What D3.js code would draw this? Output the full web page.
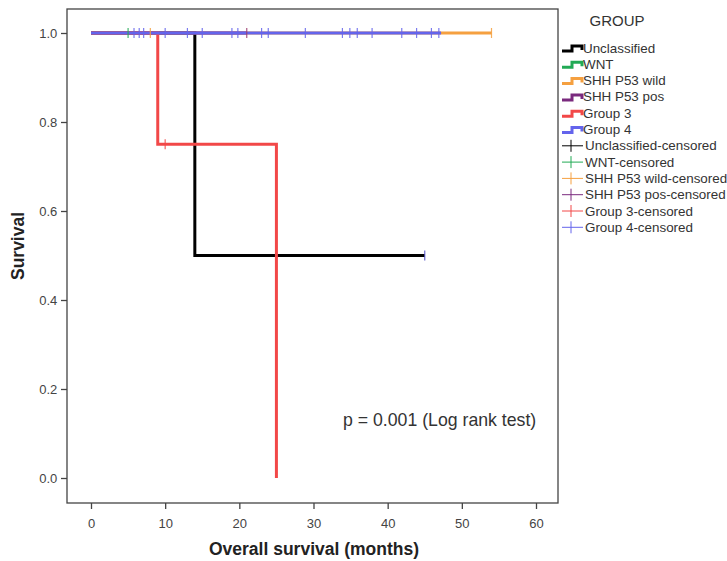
<!DOCTYPE html>
<html><head><meta charset="utf-8">
<script src="https://cdn.jsdelivr.net/npm/d3@7"></script>
<style>body{margin:0;background:#fff}svg{display:block;font-family:"Liberation Sans",Arial,sans-serif}</style>
</head><body><svg id="c" width="727" height="561"></svg>
<script>
const groups = ["Unclassified","WNT","SHH P53 wild","SHH P53 pos","Group 3","Group 4"];
const colors = ["#000000","#22aa55","#f5a040","#7a2a7e","#f24848","#6464ec"];
// step curves: [time, survival]
const unclassifiedSteps = [[0,1],[14,0.5],[45,0.5]];
const wntSteps = [[0,1],[5,1]];
const shhWildSteps = [[0,1],[54,1]];
const shhPosSteps = [[0,1],[21,1]];
const group3Steps = [[0,1],[9,0.75],[25,0]];
const group4Steps = [[0,1],[47.2,1]];
const allSteps = [unclassifiedSteps,wntSteps,shhWildSteps,shhPosSteps,group3Steps,group4Steps];
// censored observations: [time, survival]
const unclassifiedCens = [[45,0.5]];
const wntCens = [[5,1]];
const shhWildCens = [[8,1],[54,1]];
const shhPosCens = [[21,1]];
const group3Cens = [[10,0.75]];
const group4Cens = [[5.8,1],[6.5,1],[7.1,1],[10,1],[13,1],[15,1],[19,1],[19.8,1],[23,1],[23.9,1],[28.9,1],[33.9,1],[34.9,1],[35.9,1],[37.9,1],[41.9,1],[43.9,1],[45.9,1],[46.9,1]];
const allCens = [unclassifiedCens,wntCens,shhWildCens,shhPosCens,group3Cens,group4Cens];
const censColors = ["#5050c8","#22aa55","#f5a040","#9a3a6e","#f24848","#6464ec"];
const xTicks = [0,10,20,30,40,50,60];
const yTicks = [0,0.2,0.4,0.6,0.8,1.0];

const svg = d3.select("#c");
const x = d3.scaleLinear().domain([0,60]).range([91,536]);
const y = d3.scaleLinear().domain([0,1]).range([478,33]);
const frame = {l:67,t:9,r:558,b:503};

svg.append("rect").attr("x",frame.l).attr("y",frame.t).attr("width",frame.r-frame.l).attr("height",frame.b-frame.t)
  .attr("fill","#fff").attr("stroke","#444").attr("stroke-width",1.3);

const ax = svg.append("g").attr("transform",`translate(0,${frame.b})`)
  .call(d3.axisBottom(x).tickValues(xTicks).tickFormat(d3.format("d")).tickSize(6).tickSizeOuter(0));
ax.select(".domain").remove();
ax.selectAll("line").attr("stroke","#444").attr("stroke-width",1.3);
ax.selectAll("text").attr("font-size",13).attr("fill","#444").attr("dy","1.25em").style("font-family","Liberation Sans, Arial");

const ay = svg.append("g").attr("transform",`translate(${frame.l},0)`)
  .call(d3.axisLeft(y).tickValues(yTicks).tickFormat(d3.format(".1f")).tickSize(6).tickSizeOuter(0));
ay.select(".domain").remove();
ay.selectAll("line").attr("stroke","#444").attr("stroke-width",1.3);
ay.selectAll("text").attr("font-size",13).attr("fill","#444").attr("dx","-0.05em").style("font-family","Liberation Sans, Arial");

const line = d3.line().x(d=>x(d[0])).y(d=>y(d[1])).curve(d3.curveStepAfter);
allSteps.forEach((s,i)=>{
  svg.append("path").attr("d",line(s)).attr("fill","none").attr("stroke",colors[i]).attr("stroke-width",3);
});
allCens.forEach((cs,i)=>{
  cs.forEach(c=>{
    svg.append("line").attr("x1",x(c[0])).attr("x2",x(c[0])).attr("y1",y(c[1])-5).attr("y2",y(c[1])+5)
      .attr("stroke",censColors[i]).attr("stroke-width",1.2).attr("opacity",0.85);
  });
});

// axis titles
svg.append("text").attr("x",314).attr("y",555).attr("text-anchor","middle").attr("font-size",17.5).attr("font-weight","bold")
  .attr("fill","#222").text("Overall survival (months)");
svg.append("text").attr("transform","translate(24,246) rotate(-90)").attr("text-anchor","middle").attr("font-size",17.5)
  .attr("font-weight","bold").attr("fill","#222").text("Survival");

svg.append("text").attr("x",343).attr("y",426).attr("font-size",17.7).attr("fill","#333").text("p = 0.001 (Log rank test)");

// legend
svg.append("text").attr("x",617).attr("y",26).attr("text-anchor","middle").attr("font-size",15).attr("fill","#333").text("GROUP");
const lg = svg.append("g");
const ly0 = 48, lstep = 16.3;
groups.forEach((g,i)=>{
  const yy = ly0 + i*lstep;
  lg.append("path").attr("d",`M562,${yy+3}H572V${yy-2}H582V${yy+2}`).attr("fill","none").attr("stroke",colors[i]).attr("stroke-width",3);
  lg.append("text").attr("x",583).attr("y",yy+4.5).attr("font-size",13.4).attr("fill","#333").text(g);
});
groups.forEach((g,i)=>{
  const yy = ly0 + (i+6)*lstep;
  lg.append("line").attr("x1",562).attr("x2",583).attr("y1",yy).attr("y2",yy).attr("stroke",colors[i]).attr("stroke-width",1);
  lg.append("line").attr("x1",571).attr("x2",571).attr("y1",yy-6).attr("y2",yy+6).attr("stroke",colors[i]).attr("stroke-width",1);
  lg.append("text").attr("x",585).attr("y",yy+4.5).attr("font-size",13.4).attr("fill","#333").text(g+"-censored");
});
</script></body></html>
